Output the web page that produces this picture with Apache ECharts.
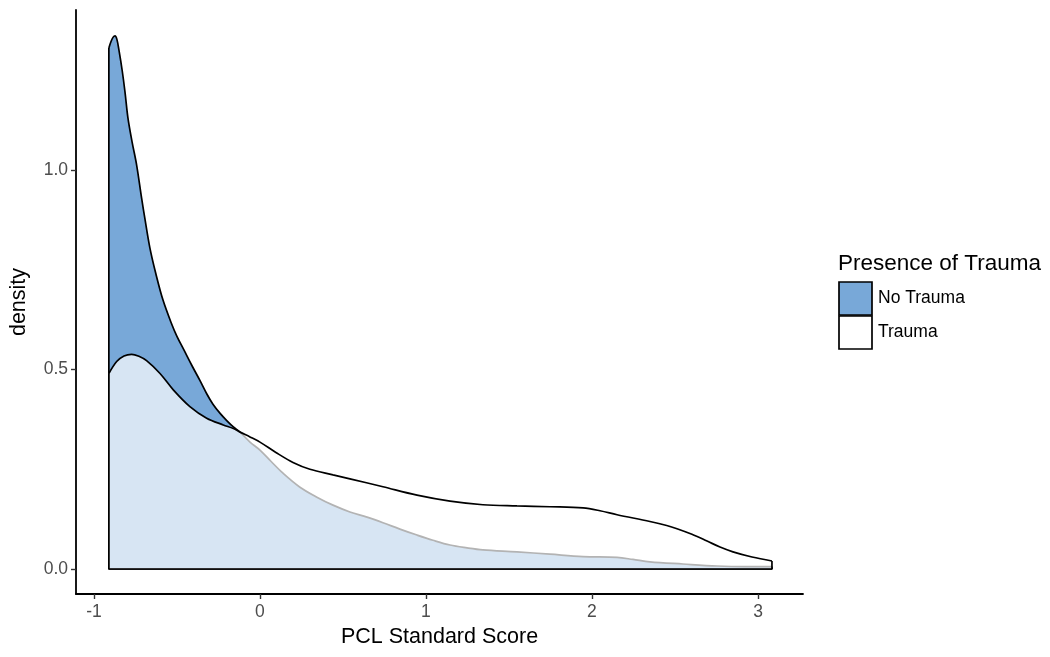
<!DOCTYPE html>
<html>
<head>
<meta charset="utf-8">
<script src="https://cdn.jsdelivr.net/npm/echarts@6/dist/echarts.min.js"></script>
<style>
html,body{margin:0;padding:0;background:#fff;}
#chart{width:1050px;height:657px;}
</style>
</head>
<body>
<div id="chart"></div>
<script>
// ---- data ----
const xTicks = [-1, 0, 1, 2, 3];
const yTicks = [0, 0.5, 1.0];
const seriesNames = ['No Trauma', 'Trauma'];
const legendTitle = 'Presence of Trauma';
const xTitle = 'PCL Standard Score';
const yTitle = 'density';

// No Trauma density (x, y)
const noTraumaX = [-0.910, -0.897, -0.884, -0.873, -0.862, -0.849, -0.830, -0.813, -0.795, -0.770, -0.743, -0.713, -0.693, -0.663, -0.627, -0.584, -0.530, -0.500, -0.458, -0.410, -0.361, -0.319, -0.283, -0.240, -0.200, -0.160, -0.120, -0.060, 0.000, 0.066, 0.139, 0.241, 0.343, 0.440, 0.542, 0.645, 0.741, 0.843, 0.946, 1.042, 1.145, 1.247, 1.343, 1.548, 1.747, 1.946, 2.151, 2.247, 2.349, 2.548, 2.753, 2.920, 3.084];
const noTraumaY = [1.306, 1.322, 1.333, 1.336, 1.328, 1.300, 1.250, 1.196, 1.130, 1.070, 1.013, 0.930, 0.878, 0.805, 0.740, 0.674, 0.612, 0.583, 0.549, 0.510, 0.472, 0.438, 0.413, 0.390, 0.372, 0.356, 0.343, 0.318, 0.298, 0.270, 0.240, 0.205, 0.180, 0.160, 0.143, 0.130, 0.116, 0.100, 0.085, 0.072, 0.060, 0.053, 0.048, 0.043, 0.037, 0.031, 0.029, 0.024, 0.018, 0.0125, 0.0075, 0.006, 0.006];

// Trauma density (x, y)
const traumaX = [-0.910, -0.863, -0.819, -0.773, -0.729, -0.683, -0.602, -0.522, -0.422, -0.321, -0.221, -0.160, -0.120, -0.060, 0.000, 0.096, 0.199, 0.301, 0.440, 0.542, 0.741, 0.946, 1.145, 1.343, 1.548, 1.747, 1.946, 2.048, 2.151, 2.349, 2.450, 2.512, 2.602, 2.693, 2.771, 2.849, 2.964, 3.084];
const traumaY = [0.490, 0.520, 0.534, 0.538, 0.533, 0.522, 0.490, 0.449, 0.407, 0.378, 0.361, 0.352, 0.343, 0.331, 0.318, 0.292, 0.267, 0.250, 0.236, 0.226, 0.206, 0.185, 0.170, 0.161, 0.158, 0.156, 0.153, 0.146, 0.136, 0.119, 0.109, 0.101, 0.087, 0.070, 0.055, 0.043, 0.030, 0.020];

// ---- build ----
function pts(xs, ys) { return xs.map((x, i) => [x, ys[i]]); }
function edges(xs, ys) {
  const n = xs.length - 1;
  return [[xs[0], ys[0]], [xs[0], 0], [xs[n], 0], [xs[n], ys[n]]];
}
const BLUE = '#78A8D8';
const LW = 1.7;
const FONT = 'Liberation Sans, Arial, sans-serif';

const chart = echarts.init(document.getElementById('chart'), null, {renderer: 'canvas'});
chart.setOption({
  animation: false,
  backgroundColor: '#ffffff',
  grid: {left: 76, right: 247, top: 10, bottom: 63},
  xAxis: {
    type: 'value', min: -1.108, max: 3.271,
    name: xTitle, nameLocation: 'middle', nameGap: 27,
    nameTextStyle: {color: '#000', fontSize: 21.5, fontFamily: FONT},
    axisLine: {onZero: false, lineStyle: {color: '#000', width: 1.8}},
    axisTick: {show: true, length: 5, customValues: xTicks, lineStyle: {color: '#333', width: 1.4}},
    axisLabel: {customValues: xTicks, margin: 9, color: '#4d4d4d', fontSize: 17.5, fontFamily: FONT,
      formatter: v => String(v)},
    splitLine: {show: false}
  },
  yAxis: {
    type: 'value', min: -0.0627, max: 1.401,
    name: yTitle, nameLocation: 'middle', nameGap: 46, nameRotate: 90,
    nameTextStyle: {color: '#000', fontSize: 21.5, fontFamily: FONT},
    axisLine: {show: true, onZero: false, lineStyle: {color: '#000', width: 1.8}},
    axisTick: {show: true, length: 5, customValues: yTicks, lineStyle: {color: '#333', width: 1.4}},
    axisLabel: {customValues: yTicks, margin: 8, color: '#4d4d4d', fontSize: 17.5, fontFamily: FONT,
      formatter: v => v.toFixed(1)},
    splitLine: {show: false}
  },
  series: [
    {
      name: seriesNames[0], type: 'line', data: pts(noTraumaX, noTraumaY), z: 2,
      smooth: 0.35, symbol: 'none',
      lineStyle: {color: '#000', width: LW},
      areaStyle: {color: BLUE, opacity: 1}
    },
    {
      type: 'line', data: edges(noTraumaX, noTraumaY), symbol: 'none', z: 2,
      lineStyle: {color: '#000', width: LW}
    },
    {
      name: seriesNames[1], type: 'line', data: pts(traumaX, traumaY), z: 4,
      smooth: 0.35, symbol: 'none',
      lineStyle: {color: '#000', width: LW},
      areaStyle: {color: 'rgba(255,255,255,0.7)', opacity: 1}
    },
    {
      type: 'line', data: edges(traumaX, traumaY), symbol: 'none', z: 4,
      lineStyle: {color: '#000', width: LW}
    }
  ],
  graphic: [
    {type: 'text', left: 838, top: 252, style: {text: legendTitle, fill: '#000', fontSize: 22.5, fontFamily: FONT}},
    {type: 'rect', shape: {x: 839, y: 282, width: 33, height: 33}, style: {fill: BLUE, stroke: '#000', lineWidth: 1.7}},
    {type: 'rect', shape: {x: 839, y: 316, width: 33, height: 33}, style: {fill: '#fff', stroke: '#000', lineWidth: 1.7}},
    {type: 'text', left: 878, top: 289, style: {text: seriesNames[0], fill: '#000', fontSize: 17.5, fontFamily: FONT}},
    {type: 'text', left: 878, top: 323, style: {text: seriesNames[1], fill: '#000', fontSize: 17.5, fontFamily: FONT}}
  ]
});
</script>
</body>
</html>
